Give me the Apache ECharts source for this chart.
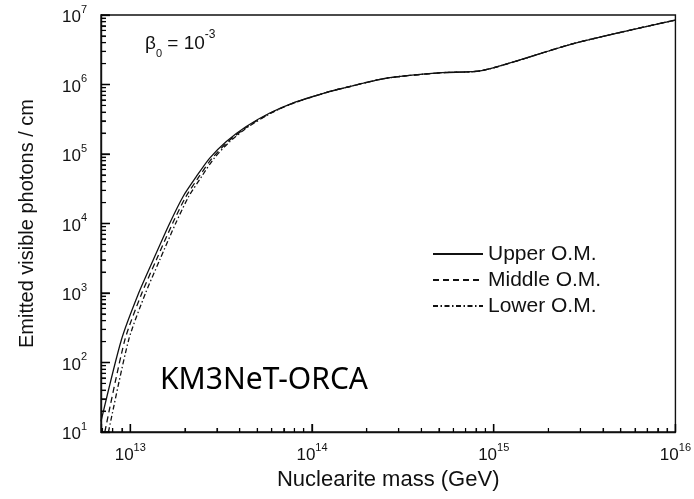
<!DOCTYPE html>
<html><head><meta charset="utf-8">
<script src="https://cdn.jsdelivr.net/npm/echarts@6/dist/echarts.min.js"></script>
<style>html,body{margin:0;padding:0;background:#fff}#c{width:694px;height:499px}</style>
</head><body><div id="c"></div>
<script>
// ---- axis ranges and tick labels ----
const xMin = 6.9e12, xMax = 1e16;
const yMin = 10, yMax = 1e7;
const xTickExponents = [13, 14, 15, 16];
const yTickExponents = [1, 2, 3, 4, 5, 6, 7];
const minorMultipliers = [2, 3, 4, 5, 6, 7, 8, 9];
const seriesNames = ['Upper O.M.', 'Middle O.M.', 'Lower O.M.'];

// ---- data (nuclearite mass in GeV, emitted visible photons / cm) ----
const upperMass = [6.9e12, 8.93e12, 1.107e13, 1.337e13, 1.648e13, 1.950e13, 2.307e13, 2.729e13, 3.365e13, 4.325e13, 5.821e13, 7.780e13, 1.239e14, 1.472e14, 2.541e14, 5.188e14, 8.590e14, 2.780e15, 1e16];
const upperPhotons = [14.2, 211, 968, 2985, 1.007e4, 2.43e4, 4.71e4, 8.67e4, 1.503e5, 2.47e5, 3.855e5, 5.36e5, 7.87e5, 8.81e5, 1.227e6, 1.479e6, 1.581e6, 3.917e6, 8.47e6];
const middleMass = [7.244e12, 9.333e12, 1.153e13, 1.390e13, 1.710e13, 2.023e13, 2.388e13, 2.818e13, 3.451e13, 4.406e13, 5.888e13, 7.834e13, 1.242e14, 1.472e14, 2.541e14, 5.188e14, 8.590e14, 2.780e15, 1e16];
const middlePhotons = [10, 211, 968, 2985, 1.007e4, 2.43e4, 4.71e4, 8.67e4, 1.503e5, 2.47e5, 3.855e5, 5.36e5, 7.87e5, 8.81e5, 1.227e6, 1.479e6, 1.581e6, 3.917e6, 8.47e6];
const lowerMass = [7.586e12, 9.795e12, 1.208e13, 1.452e13, 1.778e13, 2.094e13, 2.466e13, 2.891e13, 3.524e13, 4.467e13, 5.929e13, 7.852e13, 1.242e14, 1.472e14, 2.541e14, 5.188e14, 8.590e14, 2.780e15, 1e16];
const lowerPhotons = [10, 211, 968, 2985, 1.007e4, 2.43e4, 4.71e4, 8.67e4, 1.503e5, 2.47e5, 3.855e5, 5.36e5, 7.87e5, 8.81e5, 1.227e6, 1.479e6, 1.581e6, 3.917e6, 8.47e6];

const FONT = 'Liberation Sans';
const INK = '#111';
const chart = echarts.init(document.getElementById('c'), null, {renderer: 'canvas'});

const lxMin = Math.log10(xMin), lxMax = Math.log10(xMax);
const lyMin = Math.log10(yMin), lyMax = Math.log10(yMax);
function minorTickValues(lo, hi) {
  const out = [];
  for (let n = Math.floor(Math.log10(lo)); n < Math.ceil(Math.log10(hi)); n++) {
    for (const k of minorMultipliers) {
      const v = k * Math.pow(10, n);
      if (v > lo * 1.0001 && v < hi * 0.9999) out.push(v);
    }
  }
  return out;
}
const labelRich = {
  b: {fontSize: 17, fontFamily: FONT, color: INK, lineHeight: 22, verticalAlign: 'bottom'},
  s: {fontSize: 11, fontFamily: FONT, color: INK, lineHeight: 12, verticalAlign: 'top'}
};
const powFmt = v => '{b|10}{s|' + Math.round(v) + '}';
const pairs = (xs, ys) => xs.map((x, i) => [x, ys[i]]);

// value axes in log10 units: frame line, power-of-ten labels, axis names
function labelAxis(isX) {
  return {
    type: 'value', gridIndex: 0,
    min: isX ? lxMin : lyMin, max: isX ? lxMax : lyMax,
    position: isX ? 'bottom' : 'left',
    axisLine: {show: true, lineStyle: {color: INK, width: 1.4}},
    axisTick: {show: false},
    axisLabel: {show: true, customValues: isX ? xTickExponents : yTickExponents,
      formatter: powFmt, rich: labelRich, margin: isX ? 10 : 14},
    splitLine: {show: false},
    name: isX ? 'Nuclearite mass (GeV)' : 'Emitted visible photons / cm',
    nameLocation: 'middle',
    nameGap: isX ? 37 : 64,
    nameTextStyle: {fontSize: isX ? 22 : 20, fontFamily: FONT, color: INK}
  };
}
// log axes carrying the data, with their own inside ticks
function dataAxis(isX) {
  return {type: 'log', logBase: 10, gridIndex: 0, show: true,
    min: isX ? xMin : yMin, max: isX ? xMax : yMax,
    position: isX ? 'bottom' : 'left',
    axisLine: {show: false},
    axisLabel: {show: false},
    axisTick: {show: true, inside: true, length: isX ? 8 : 9, lineStyle: {color: INK, width: 1.3}},
    minorTick: {show: true, splitNumber: 9, length: isX ? 4 : 5, lineStyle: {color: INK, width: 1.1}},
    splitLine: {show: false}, minorSplitLine: {show: false}};
}

function lineSeries(name, xs, ys, dash, z) {
  return {
    name, type: 'line', xAxisIndex: 0, yAxisIndex: 0,
    data: pairs(xs, ys), symbol: 'none', showSymbol: false,
    smooth: 0.25, z,
    lineStyle: {color: INK, width: 1.3, type: dash},
    itemStyle: {color: INK},
    emphasis: {disabled: true}
  };
}

// inside tick marks as short two-point line series on the log axes
const tickSeries = [];
function addTicks(isX) {
  const major = (isX ? xTickExponents : yTickExponents).map(e => Math.pow(10, e));
  const minor = isX ? minorTickValues(xMin, xMax) : minorTickValues(yMin, yMax);
  const majDec = isX ? 0.115 : 0.049, minDec = isX ? 0.058 : 0.027;
  const put = (v, dec, w) => {
    const data = isX ? [[v, yMin], [v, yMin * Math.pow(10, dec)]]
                     : [[xMin, v], [xMin * Math.pow(10, dec), v]];
    tickSeries.push({name: 'tick' + tickSeries.length, type: 'line', xAxisIndex: 0, yAxisIndex: 0, data,
      symbol: 'none', showSymbol: false, silent: true, clip: false, z: 6,
      lineStyle: {color: '#000', width: w, type: 'solid', opacity: 1}, emphasis: {disabled: true}});
  };
  major.forEach(v => put(v, majDec, 1.3));
  minor.forEach(v => put(v, minDec, 1.1));
}
addTicks(true);
addTicks(false);

chart.setOption({
  animation: false,
  backgroundColor: '#fff',
  grid: {left: 101, right: 15, top: 15, bottom: 67, show: true, borderColor: INK, borderWidth: 1.4},
  xAxis: [dataAxis(true), labelAxis(true)],
  yAxis: [dataAxis(false), labelAxis(false)],
  legend: {
    orient: 'vertical', left: 432, top: 243.5, padding: 0,
    itemWidth: 50, itemHeight: 20, itemGap: 5,
    data: seriesNames,
    itemStyle: {opacity: 0},
    textStyle: {fontSize: 21, fontFamily: FONT, color: INK},
    selectedMode: false
  },
  series: [
    lineSeries(seriesNames[2], lowerMass, lowerPhotons, [5, 2.5, 1.5, 2.5], 2),
    lineSeries(seriesNames[1], middleMass, middlePhotons, [6, 4], 3),
    lineSeries(seriesNames[0], upperMass, upperPhotons, 'solid', 4)
  ].concat(tickSeries),
  graphic: [
    {type: 'text', left: 145, top: 29, z: 10, style: {
      text: '{g|β}{sub|0}{g| = 10}{sup|-3}',
      rich: {
        g: {fontSize: 19, fontFamily: FONT, fill: INK, lineHeight: 30, verticalAlign: 'middle'},
        sub: {fontSize: 11, fontFamily: FONT, fill: INK, lineHeight: 11, verticalAlign: 'bottom'},
        sup: {fontSize: 12, fontFamily: FONT, fill: INK, lineHeight: 12, verticalAlign: 'top'}
      }}},
    {type: 'text', left: 160, top: 365, z: 10, style: {
      text: 'KM3NeT-ORCA', fontSize: 30, fontFamily: 'Noto Sans', fill: '#000'}}
  ]
});
</script></body></html>
